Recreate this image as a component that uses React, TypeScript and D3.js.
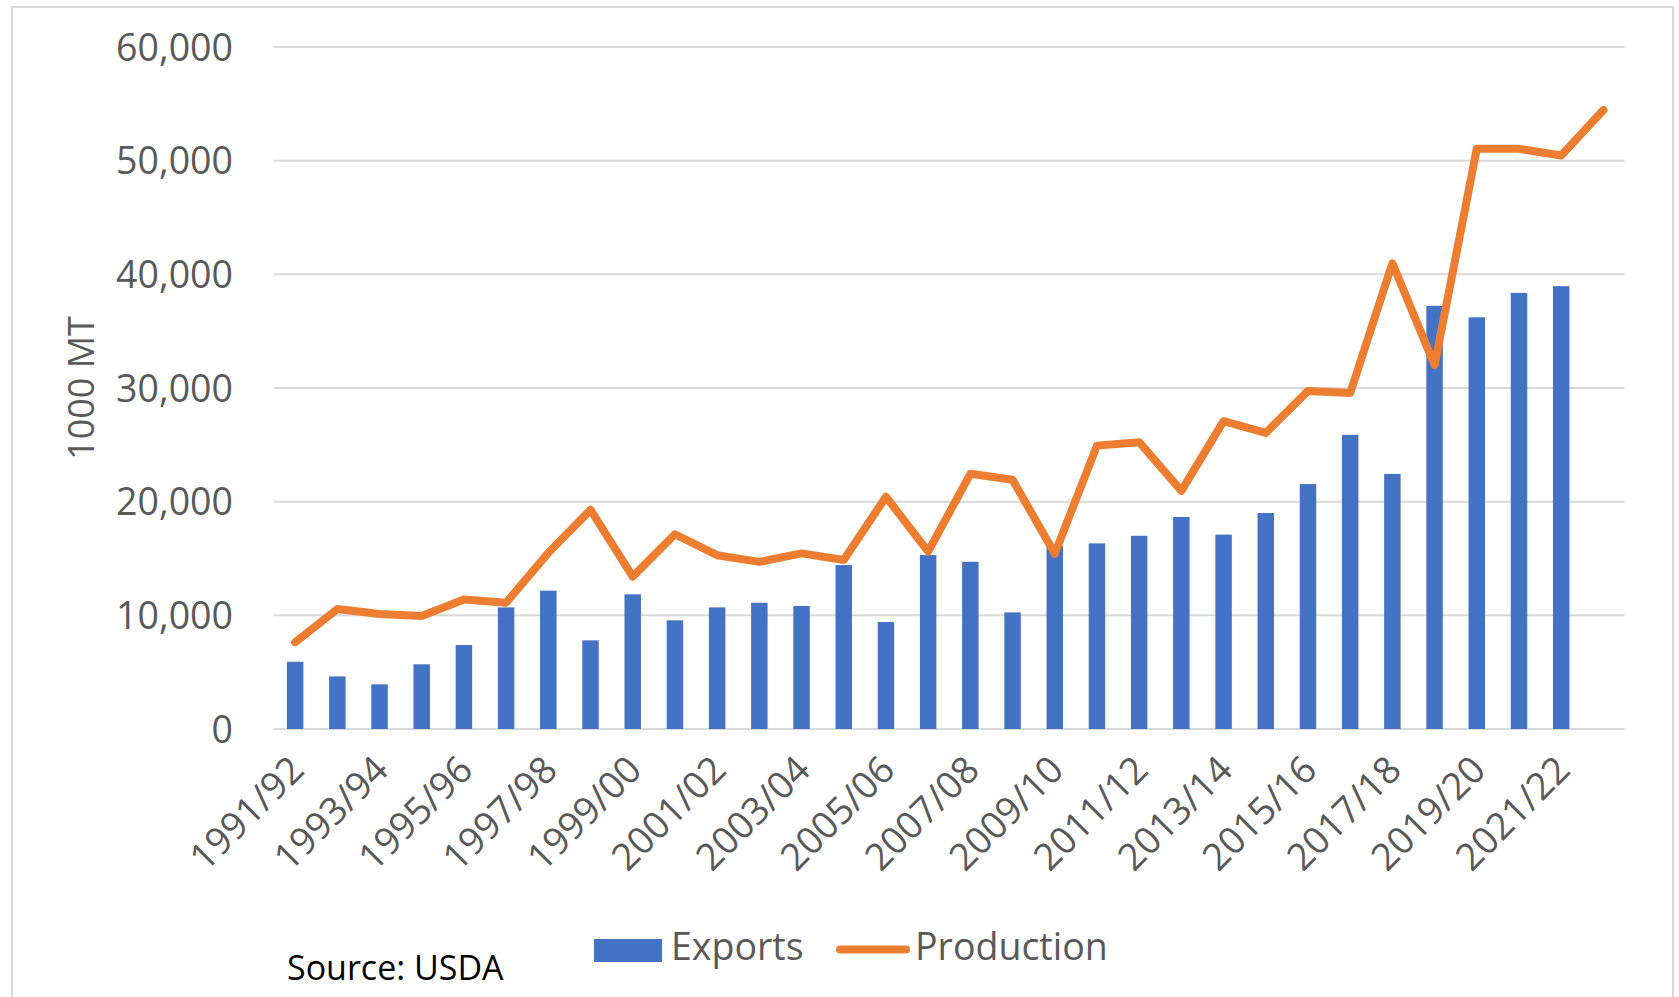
import React from 'react';
import * as d3 from 'd3';

// Marketing years on the x axis (every other one is labelled)
const seasons = [
  '1991/92', '1992/93', '1993/94', '1994/95', '1995/96', '1996/97', '1997/98', '1998/99',
  '1999/00', '2000/01', '2001/02', '2002/03', '2003/04', '2004/05', '2005/06', '2006/07',
  '2007/08', '2008/09', '2009/10', '2010/11', '2011/12', '2012/13', '2013/14', '2014/15',
  '2015/16', '2016/17', '2017/18', '2018/19', '2019/20', '2020/21', '2021/22', '2022/23',
];

// 1000 MT
const exportsData: (number | null)[] = [
  5920, 4630, 3930, 5690, 7390, 10700, 12170, 7800,
  11850, 9560, 10700, 11110, 10820, 14420, 9410, 15300,
  14710, 10260, 16100, 16330, 17000, 18650, 17100, 19000,
  21550, 25880, 22440, 37230, 36220, 38370, 38960, null,
];

const productionData = [
  7620, 10550, 10110, 9940, 11400, 11110, 15500, 19280,
  13400, 17130, 15290, 14700, 15450, 14870, 20430, 15600,
  22450, 21930, 15420, 24930, 25230, 20950, 27080, 26050,
  29740, 29550, 40970, 32000, 51040, 51040, 50450, 54460,
];

const yTicks = [0, 10000, 20000, 30000, 40000, 50000, 60000];

const W = 1679;
const H = 997;
const plot = { left: 274, right: 1624.5, top: 47, bottom: 729 };

const BLUE = '#4472C4';
const ORANGE = '#ED7D31';
const TEXT = '#595959';
const GRID = '#d9d9d9';
const FONT = '"Open Sans", "Liberation Sans", sans-serif';

export default function App() {
  const x = d3.scaleBand<string>()
    .domain(seasons)
    .range([plot.left, plot.right])
    .paddingInner(0.61)
    .paddingOuter(0.305);
  const cx = (s: string) => (x(s) ?? 0) + x.bandwidth() / 2;

  const y = d3.scaleLinear().domain([0, 60000]).range([plot.bottom, plot.top]);
  const fmt = d3.format(',');

  const line = d3.line<number>()
    .x((_, i) => cx(seasons[i]))
    .y(d => y(d));

  return (
    <div>
      <style>{`body{margin:0;background:#fff}`}</style>
      <svg width={W} height={H} style={{ display: 'block', fontFamily: FONT }}>
        <rect x={0} y={0} width={W} height={H} fill="#fff" />
        <rect x={12} y={7} width={1661} height={1010} fill="none" stroke={GRID} strokeWidth={2} />

        {/* grid + y labels */}
        {yTicks.map(t => (
          <g key={t}>
            <line x1={plot.left} x2={plot.right} y1={y(t)} y2={y(t)} stroke={GRID} strokeWidth={2} />
            <text x={233} y={y(t)} dy="0.36em" textAnchor="end" fontSize={37.5} fill={TEXT}>
              {fmt(t)}
            </text>
          </g>
        ))}

        <text
          transform={`translate(94,388) rotate(-90)`}
          textAnchor="middle"
          fontSize={36}
          fill={TEXT}
        >
          1000 MT
        </text>

        {/* export bars */}
        {seasons.map((s, i) => {
          const v = exportsData[i];
          if (v == null) return null;
          return (
            <rect
              key={s}
              x={x(s)}
              y={y(v)}
              width={x.bandwidth()}
              height={y(0) - y(v)}
              fill={BLUE}
            />
          );
        })}

        {/* production line */}
        <path
          d={line(productionData) ?? ''}
          fill="none"
          stroke={ORANGE}
          strokeWidth={8}
          strokeLinejoin="round"
          strokeLinecap="round"
        />

        {/* x labels */}
        {seasons.map((s, i) =>
          i % 2 === 0 ? (
            <text
              key={s}
              transform={`translate(${cx(s) + 11},772) rotate(-45)`}
              textAnchor="end"
              fontSize={37.5}
              fill={TEXT}
            >
              {s}
            </text>
          ) : null
        )}

        {/* legend */}
        <rect x={594} y={939} width={68} height={23} fill={BLUE} />
        <text x={671} y={960} fontSize={37.5} fill={TEXT}>Exports</text>
        <line x1={840} x2={906} y1={949.5} y2={949.5} stroke={ORANGE} strokeWidth={8} strokeLinecap="round" />
        <text x={915} y={960} fontSize={37.5} fill={TEXT}>Production</text>

        <text x={287} y={980} fontSize={34} fill="#000">Source: USDA</text>
      </svg>
    </div>
  );
}
